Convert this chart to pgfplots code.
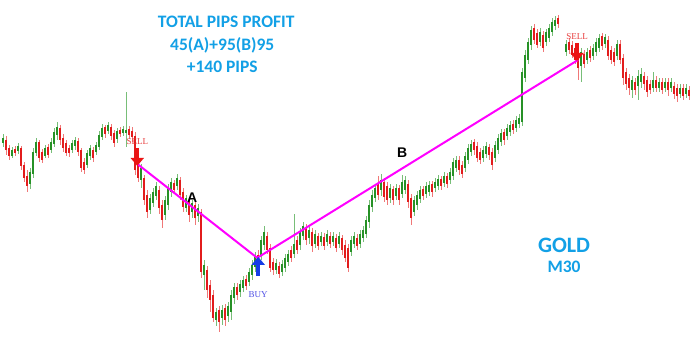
\documentclass[border=0pt]{standalone}
\usepackage{pgfplots}
\pgfplotsset{compat=1.18}
\usepackage{pgfplotstable}
\usetikzlibrary{arrows.meta}
\usepackage{fontspec}
\newfontfamily\carlito{Carlito}
\newfontfamily\arialf{Liberation Sans}
\newfontfamily\timesf{Liberation Serif}
\definecolor{gbody}{RGB}{38,145,38}
\definecolor{gwick}{RGB}{120,190,120}
\definecolor{rbody}{RGB}{226,28,28}
\definecolor{rwick}{RGB}{240,120,120}
\definecolor{ttl}{RGB}{18,160,230}
\definecolor{mag}{RGB}{255,0,255}
\definecolor{sellc}{RGB}{232,60,60}
\definecolor{arrr}{RGB}{235,20,20}
\definecolor{buyc}{RGB}{80,80,230}
\definecolor{arrb}{RGB}{20,60,230}

\pgfplotstableread{
x h l t b
3 134 147 138 143
12 147 158 150 156
18 143 154 146 151
30 168 189 172 184
33 148 178 152 174
36 138 156 142 153
45 145 158 148 156
51 138 153 142 150
54 128 147 132 144
57 122 140 127 135
72 140 153 143 150
75 137 150 140 146
87 150 168 153 165
90 145 160 148 156
96 142 155 145 152
99 131 150 135 147
102 124 140 128 137
108 122 134 125 131
117 128 143 131 139
123 126 136 129 133
126 92 147 130 133
141 164 188 168 180
150 194 214 198 210
153 188 207 192 203
156 182 200 186 196
165 196 220 200 215
168 184 210 188 205
171 178 197 182 192
177 174 190 178 186
186 195 212 198 208
192 200 218 203 212
198 204 222 208 216
204 260 290 265 275
216 308 326 312 320
222 305 325 310 318
228 302 322 306 316
231 290 320 295 312
234 283 304 287 298
240 280 297 284 292
243 276 292 280 288
249 268 286 272 282
252 260 280 265 275
255 252 272 257 267
261 236 260 240 255
264 226 250 232 245
276 259 274 263 270
282 260 276 264 272
285 254 272 258 268
288 250 266 254 262
294 214 258 244 254
300 228 250 232 245
303 222 240 226 236
309 226 244 230 238
315 230 248 234 244
321 232 246 236 242
327 230 246 234 242
333 232 246 236 242
339 232 248 236 244
351 236 256 240 252
354 232 248 236 244
360 230 248 234 244
363 226 242 230 238
366 216 238 220 234
369 200 228 205 222
372 190 212 195 207
375 184 202 188 198
381 174 196 180 190
390 184 203 188 198
396 184 200 188 196
402 175 198 182 194
405 176 194 180 190
414 196 216 200 212
417 191 210 195 205
420 186 203 190 199
426 182 198 186 194
429 181 196 185 192
435 178 192 182 188
438 175 190 179 186
444 172 187 176 183
450 168 184 172 180
453 158 180 162 176
456 156 172 160 168
465 152 172 156 168
468 144 164 148 160
471 140 156 144 152
483 146 162 150 158
486 142 158 146 154
495 141 162 145 158
498 134 154 138 150
501 129 146 133 142
507 124 140 128 136
510 121 136 125 132
516 116 132 120 128
519 114 128 118 124
522 68 126 72 122
525 50 82 55 78
528 38 64 42 60
531 26 50 30 45
540 28 46 32 42
546 29 46 32 42
549 24 42 28 38
552 18 36 22 32
555 16 30 20 26
566 40 56 44 52
581 48 82 52 66
587 48 64 52 60
593 44 60 48 56
596 38 56 42 52
599 34 52 38 48
605 34 48 37 44
617 40 60 44 56
632 76 98 80 90
638 70 100 76 86
641 68 88 74 82
653 72 92 80 88
659 78 92 82 88
665 78 92 82 88
671 78 92 82 88
680 84 98 88 94
686 84 98 88 94
}\greentab

\pgfplotstableread{
x h l t b
6 136 155 140 150
9 145 160 148 156
15 146 156 149 153
21 146 170 148 166
24 162 182 165 178
27 170 192 176 186
39 140 162 142 158
42 149 163 152 160
48 144 158 147 155
60 125 145 128 140
63 134 152 138 148
66 140 156 143 153
69 145 157 148 153
78 138 156 141 152
81 148 172 150 168
84 158 174 162 170
93 147 162 150 158
105 125 138 127 134
111 124 140 127 136
114 130 147 133 143
120 127 137 130 134
129 126 139 129 135
132 127 142 131 137
135 132 175 136 170
138 160 182 165 178
144 175 205 178 200
147 190 218 195 212
159 186 214 190 208
162 200 228 205 220
174 180 194 183 190
180 177 200 180 195
183 188 212 192 207
189 197 222 200 215
195 200 225 205 218
201 209 278 212 272
207 266 298 270 290
210 280 312 285 300
213 290 322 295 318
219 306 332 310 322
225 304 326 308 320
237 283 300 287 295
246 275 290 279 286
258 250 266 255 262
267 232 254 236 250
270 244 272 248 268
273 258 275 262 270
279 262 278 266 274
291 246 262 250 258
297 236 254 240 250
306 224 245 228 240
312 228 252 232 246
318 233 250 236 246
324 233 250 237 246
330 232 248 236 244
336 234 252 238 248
342 235 255 238 250
345 240 262 245 258
348 244 272 248 268
357 234 250 238 246
378 176 200 183 195
384 178 202 182 197
387 182 205 186 200
393 186 205 189 200
399 185 205 188 200
408 180 208 184 202
411 194 225 198 218
423 186 200 189 196
432 181 197 184 192
441 176 190 179 186
447 173 188 176 184
459 156 175 160 170
462 161 178 165 174
474 139 155 142 150
477 142 162 146 158
480 148 164 152 160
489 144 160 147 155
492 148 170 152 165
504 129 145 132 140
513 120 134 124 130
534 24 44 28 40
537 29 48 33 45
543 31 52 35 48
558 15 28 18 24
569 38 54 42 50
572 41 58 45 55
575 44 64 48 60
578 48 80 52 68
584 50 68 54 64
590 46 62 50 58
602 33 50 36 46
608 36 60 40 56
611 46 64 50 60
614 48 66 52 62
620 40 64 44 60
623 54 85 58 78
626 68 90 72 84
629 74 95 78 88
635 78 95 82 90
644 72 90 76 84
647 76 97 80 92
650 80 94 84 90
656 76 92 80 88
662 78 94 82 90
668 78 96 82 90
674 82 99 86 94
677 84 102 88 96
683 84 100 88 96
689 86 100 90 96
}\redtab

\begin{document}
\begin{tikzpicture}
\begin{axis}[
  scale only axis, width=696pt, height=358pt,
  xmin=0, xmax=696, ymin=0, ymax=358, y dir=reverse,
  hide axis, clip=false,
]
\fill[white] (axis cs:0,0) rectangle (axis cs:696,358);
% wicks
\addplot[draw=none, mark=none, forget plot,
  error bars/.cd, y dir=both, y explicit, error mark=none,
  error bar style={line width=1pt, draw=gwick}]
  table[x=x, y expr={(\thisrow{h}+\thisrow{l})/2}, y error expr={(\thisrow{l}-\thisrow{h})/2}] {\greentab};
\addplot[draw=none, mark=none, forget plot,
  error bars/.cd, y dir=both, y explicit, error mark=none,
  error bar style={line width=1pt, draw=rwick}]
  table[x=x, y expr={(\thisrow{h}+\thisrow{l})/2}, y error expr={(\thisrow{l}-\thisrow{h})/2}] {\redtab};
% bodies
\addplot[draw=none, mark=none, forget plot,
  error bars/.cd, y dir=both, y explicit, error mark=none,
  error bar style={line width=2pt, draw=gbody}]
  table[x=x, y expr={(\thisrow{t}+\thisrow{b})/2}, y error expr={(\thisrow{b}-\thisrow{t})/2}] {\greentab};
\addplot[draw=none, mark=none, forget plot,
  error bars/.cd, y dir=both, y explicit, error mark=none,
  error bar style={line width=2pt, draw=rbody}]
  table[x=x, y expr={(\thisrow{t}+\thisrow{b})/2}, y error expr={(\thisrow{b}-\thisrow{t})/2}] {\redtab};
% trade lines
\addplot[mag, line width=2pt, mark=none] coordinates {(137,164) (257,258) (578,60)};
% arrows
\draw[arrr, line width=3.6pt, -{Triangle[width=13pt,length=8pt]}] (axis cs:137,148) -- (axis cs:137,166);
\draw[arrr, line width=3.6pt, -{Triangle[width=13pt,length=8pt]}] (axis cs:577,43) -- (axis cs:577,61);
\draw[arrb, line width=3.6pt, -{Triangle[width=13pt,length=8pt]}] (axis cs:258,276) -- (axis cs:258,257);
% texts
\node[text=sellc, font=\timesf\fontsize{9}{10}\selectfont] at (axis cs:137,142) {SELL};
\node[text=sellc, font=\timesf\fontsize{9}{10}\selectfont] at (axis cs:577,37) {SELL};
\node[text=buyc, font=\timesf\fontsize{9}{10}\selectfont] at (axis cs:258,295) {BUY};
\node[font=\arialf\bfseries\fontsize{14}{15}\selectfont] at (axis cs:192,198) {A};
\node[font=\arialf\bfseries\fontsize{14}{15}\selectfont] at (axis cs:402,153) {B};
\node[text=ttl, font=\carlito\bfseries\fontsize{17.5}{18}\selectfont] at (axis cs:226,22) {TOTAL PIPS PROFIT};
\node[text=ttl, font=\carlito\bfseries\fontsize{17.5}{18}\selectfont] at (axis cs:222,45) {45(A)+95(B)95};
\node[text=ttl, font=\carlito\bfseries\fontsize{17.5}{18}\selectfont] at (axis cs:222,67) {+140 PIPS};
\node[text=ttl, font=\carlito\bfseries\fontsize{22}{23}\selectfont] at (axis cs:564,245) {GOLD};
\node[text=ttl, font=\carlito\bfseries\fontsize{17.5}{18}\selectfont] at (axis cs:564,267) {M30};
\end{axis}
\end{tikzpicture}
\end{document}
